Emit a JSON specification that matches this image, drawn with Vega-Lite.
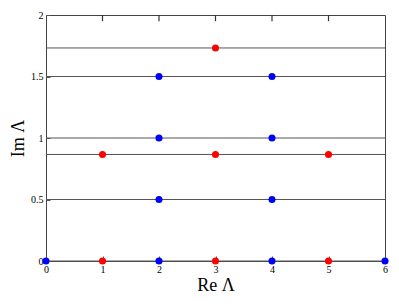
{
  "$schema": "https://vega.github.io/schema/vega-lite/v6.json",
  "width": 339,
  "height": 246,
  "autosize": "none",
  "padding": {"left": 46, "top": 15, "right": 14, "bottom": 47},
  "background": "white",
  "config": {
    "view": {"stroke": "#444", "strokeWidth": 1},
    "axis": {
      "grid": false,
      "domain": false,
      "tickColor": "#555",
      "labelFont": "Liberation Serif",
      "labelFontSize": 10,
      "labelColor": "#000",
      "titleFont": "Liberation Serif",
      "titleFontSize": 18,
      "titleFontWeight": "normal",
      "titleColor": "#000"
    }
  },
  "datasets": {
    "lines": [
      {"y": 0}, {"y": 0.5}, {"y": 0.866}, {"y": 1}, {"y": 1.5}, {"y": 1.732}
    ],
    "ticks": [
      {"x": 1, "y": 2, "y2": 1.95}, {"x": 2, "y": 2, "y2": 1.95}, {"x": 3, "y": 2, "y2": 1.95}, {"x": 4, "y": 2, "y2": 1.95}, {"x": 5, "y": 2, "y2": 1.95}
    ],
    "points": [
      {"re": 0, "im": 0, "type": "B"},
      {"re": 2, "im": 0, "type": "B"},
      {"re": 4, "im": 0, "type": "B"},
      {"re": 6, "im": 0, "type": "B"},
      {"re": 2, "im": 0.5, "type": "B"},
      {"re": 4, "im": 0.5, "type": "B"},
      {"re": 2, "im": 1, "type": "B"},
      {"re": 4, "im": 1, "type": "B"},
      {"re": 2, "im": 1.5, "type": "B"},
      {"re": 4, "im": 1.5, "type": "B"},
      {"re": 1, "im": 0, "type": "A"},
      {"re": 3, "im": 0, "type": "A"},
      {"re": 5, "im": 0, "type": "A"},
      {"re": 1, "im": 0.866, "type": "A"},
      {"re": 3, "im": 0.866, "type": "A"},
      {"re": 5, "im": 0.866, "type": "A"},
      {"re": 3, "im": 1.732, "type": "A"}
    ]
  },
  "layer": [
    {
      "data": {"name": "lines"},
      "mark": {"type": "rule", "color": "#555", "strokeWidth": 1},
      "encoding": {
        "y": {
          "field": "y", "type": "quantitative",
          "scale": {"domain": [0, 2], "nice": false, "zero": false},
          "axis": {"title": "Im Λ", "values": [0, 0.5, 1, 1.5, 2], "format": "~g", "offset": -4, "tickSize": 4, "labelPadding": 3, "titlePadding": 3, "labelFlush": false, "labelOverlap": false}
        }
      }
    },
    {
      "data": {"name": "ticks"},
      "mark": {"type": "rule", "color": "#333", "strokeWidth": 1.2},
      "encoding": {
        "x": {"field": "x", "type": "quantitative"},
        "y": {"field": "y", "type": "quantitative"},
        "y2": {"field": "y2"}
      }
    },
    {
      "data": {"name": "points"},
      "mark": {"type": "point", "filled": true, "opacity": 1, "size": 50},
      "encoding": {
        "x": {
          "field": "re", "type": "quantitative",
          "scale": {"domain": [0, 6], "nice": false, "zero": false},
          "axis": {"orient": "bottom", "title": "Re Λ", "values": [0, 1, 2, 3, 4, 5, 6], "format": "~g", "offset": -5, "tickSize": 5, "labelPadding": 3, "titlePadding": 2, "labelFlush": false}
        },
        "y": {"field": "im", "type": "quantitative"},
        "color": {
          "field": "type", "type": "nominal",
          "scale": {"domain": ["A", "B"], "range": ["#ff0000", "#0000ff"]},
          "legend": null
        }
      }
    }
  ]
}
